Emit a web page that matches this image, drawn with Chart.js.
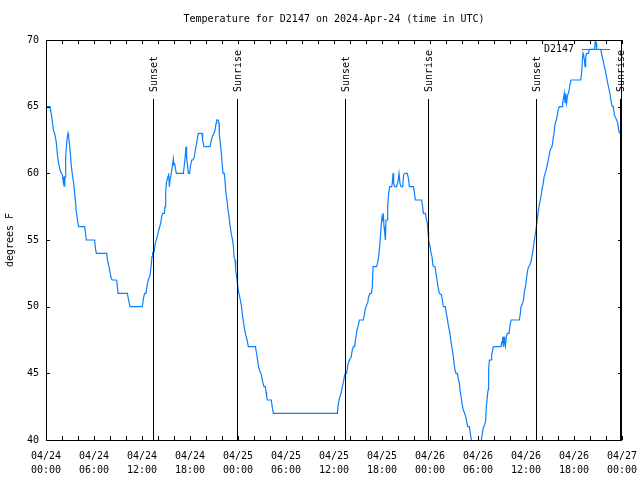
<!DOCTYPE html>
<html>
<head>
<meta charset="utf-8">
<script src="https://cdn.jsdelivr.net/npm/chart.js@4.4.1/dist/chart.umd.min.js"></script>
<style>
html,body{margin:0;padding:0;background:#fff}
canvas{display:block}
</style>
</head>
<body>
<canvas id="tempChart" width="640" height="480"></canvas>
<script>
// hours since 2024-04-24 00:00 UTC
const hours = [
  0,0.5,0.67,0.79,0.92,1.08,1.21,1.33,1.42,1.58,
  1.75,1.92,2.04,2.17,2.25,2.33,2.38,2.46,2.58,2.67,
  2.75,2.83,2.92,3.04,3.17,3.33,3.46,3.58,3.71,3.79,
  3.96,4.08,4.83,4.92,5.04,6.08,6.17,6.29,7.58,7.71,
  7.88,8.0,8.17,8.29,8.83,8.92,9.0,10.17,10.29,10.5,
  12.04,12.17,12.33,
  12.5,12.67,12.83,13.0,13.13,13.25,13.33,13.5,13.67,13.83,
  14.0,14.17,14.33,14.46,14.58,14.79,14.88,14.96,15.04,15.17,
  15.25,15.33,15.42,15.5,15.63,15.79,15.92,16.0,16.08,16.17,
  16.29,17.17,17.25,17.38,17.5,17.58,17.71,17.79,17.96,18.04,
  18.21,18.38,18.54,18.67,18.83,18.96,19.04,19.5,19.58,19.75,
  20.5,20.67,20.79,21.0,21.13,21.25,21.33,21.54,21.63,21.67,
  21.79,21.92,22.04,22.13,22.29,22.38,22.5,22.67,22.75,22.88,
  23.0,23.17,23.29,23.42,23.5,23.63,23.71,23.83,23.96,24.08,
  24.21,24.33,24.46,24.58,24.71,24.83,
  25.0,25.13,25.29,26.17,26.29,26.42,26.54,26.67,26.88,27.0,
  27.13,27.25,27.42,27.5,27.58,27.67,28.17,28.25,28.42,36.42,
  36.5,36.63,36.75,36.92,37.04,37.17,37.29,37.42,37.58,37.75,
  37.92,38.13,38.29,38.42,38.58,38.71,38.88,39.04,39.17,39.67,
  39.75,39.88,40.0,40.21,40.33,40.5,40.67,40.79,40.88,41.33,
  41.46,41.58,41.71,41.83,41.92,42.0,42.08,42.17,42.25,42.33,
  42.42,42.5,42.63,42.71,42.83,42.96,43.21,43.29,43.38,43.46,
  43.58,43.83,44.0,44.13,44.25,44.38,44.58,44.71,44.88,45.17,
  45.33,45.42,45.92,46.04,46.17,46.96,47.08,47.17,47.42,47.54,
  47.67,47.75,47.83,
  48.0,48.13,48.25,48.38,48.63,48.75,48.88,49.0,49.13,49.25,
  49.42,49.54,49.67,49.92,50.04,50.17,50.29,50.42,50.54,50.67,
  50.79,50.92,51.0,51.13,51.25,51.42,51.54,51.67,51.79,51.92,
  52.04,52.17,52.33,52.46,52.58,52.71,52.92,53.04,53.17,53.5,
  54.0,54.42,54.54,54.67,54.83,54.96,55.04,55.17,55.25,55.33,
  55.42,55.63,55.71,55.83,55.92,56.88,57.0,57.08,57.17,57.25,
  57.33,57.42,57.54,57.67,57.88,58.0,58.13,59.17,59.29,59.38,
  59.58,59.71,59.83,59.96,60.08,60.21,60.33,60.46,
  60.63,60.75,60.88,61.0,61.13,61.25,61.38,61.5,61.63,61.75,
  61.88,62.0,62.17,62.25,62.38,62.5,62.63,62.75,62.88,63.0,
  63.13,63.25,63.38,63.5,63.63,63.79,63.92,64.04,64.17,64.5,
  64.58,64.71,64.79,64.88,64.96,65.08,65.17,65.29,65.42,65.5,
  65.63,66.83,66.96,67.04,67.13,67.21,67.29,67.38,67.46,67.58,
  67.79,67.92,68.46,68.58,68.67,68.75,68.83,69.25,69.38,69.5,
  69.67,69.79,69.92,70.04,70.17,70.29,70.42,70.54,70.67,70.79,
  70.92,71.04,71.17,71.33,71.46,71.58,71.67
];

// degrees F, same order as hours
const temps = [
  65,65,64.4,63.9,63.25,63,62.6,62.1,61.4,60.75,
  60.25,60,59.9,59.3,59.75,59,59.75,61.25,62.25,62.7,
  63,62.75,62.25,61.5,60.5,59.75,59.25,58.5,57.75,57.1,
  56.4,56,56,55.6,55,55,54.4,54,54,53.4,
  53,52.6,52.1,52,52,51.5,51,51,50.6,50,
  50,50.6,51,
  51,51.7,52.1,52.3,53,53.75,54.05,54.1,54.75,55.1,
  55.5,55.9,56.25,56.75,57,57,57.5,58.5,59.25,59.6,
  59.75,60,59,59.5,59.9,60.5,61.1,60.6,60.75,60.4,
  60,60,60.4,61.1,62,61.1,60.5,60,60,60.5,
  61,61,61.25,61.75,62.25,62.75,63,63,62.5,62,
  62,62.5,62.75,63,63.25,63.75,64,64,63.75,62.9,
  62.25,61.5,60.6,60,60,59.4,58.5,57.75,57.25,56.75,
  56.1,55.4,55.1,54.55,53.75,53.5,52.75,52.25,51.6,51.1,
  50.75,50.4,49.9,49.25,48.75,48.25,
  47.8,47.5,47,47,46.6,46.1,45.6,45.25,45,44.6,
  44.25,44,44,43.6,43.3,43,43,42.6,42,42,
  42.5,43,43.25,43.6,44,44.3,44.75,45,45,45.7,
  46,46.2,46.75,47,47,47.6,48.25,48.6,49,49,
  49.25,49.7,50,50.3,50.75,51,51,51.5,53,53,
  53.3,53.75,54.5,55.5,56.25,56.7,56.4,57,56,55.6,
  55,56.5,56.5,57.5,58.5,59,59,59.25,60,59.25,
  59,59,59.4,60,59.25,59,59,59.9,60,60,
  59.5,59,59,58.6,58,58,57.5,57,57,56.6,
  56.25,55.6,55,
  54.5,54,53.75,53.05,53,52.5,52,51.5,51.1,50.95,
  50.9,50.5,50,50,49.5,49.1,48.6,48.25,47.75,47.2,
  46.75,46.25,45.75,45.25,45,45,44.6,44.25,43.6,43.1,
  42.6,42.25,42,41.75,41.4,41,41,40.5,40,39.4,
  39.4,40,40.5,40.95,41.1,41.5,42.5,43.25,43.75,45.25,
  46,46,46.4,46.75,47,47,47.4,47.75,47,47.75,
  47.25,47,47.75,48,48,48.6,49,49,49.5,50,
  50.25,50.6,51.25,51.6,52.2,52.75,53,53.1,
  53.4,53.8,54.3,54.8,55.3,55.8,56.4,57,57.5,57.9,
  58.3,58.8,59.3,59.7,60,60.2,60.55,60.9,61.3,61.7,
  61.9,62,62.55,63,63.7,64,64.4,64.8,65,65,
  65.3,65.7,66,65.3,66,65.3,65.8,66,66.3,66.7,
  67,67,67.55,68.4,69,68.8,68.55,68,68.7,69,
  69,69.3,69.3,69.4,70,69.8,69.3,69.3,69.2,68.8,
  68.4,68,67.7,67.3,66.9,66.55,66.2,65.8,65.3,65,
  65,64.4,64.2,64,63.8,63.3,63
];

const sunHours = [13.4, 23.9, 37.4, 47.8, 61.3, 71.8];
const sunLabels = ['Sunset','Sunrise','Sunset','Sunrise','Sunset','Sunrise'];

const tickHours = [0,6,12,18,24,30,36,42,48,54,60,66,72];
const tickDates = ['04/24','04/24','04/24','04/24','04/25','04/25','04/25','04/25','04/26','04/26','04/26','04/26','04/27'];
const tickTimes = ['00:00','06:00','12:00','18:00','00:00','06:00','12:00','18:00','00:00','06:00','12:00','18:00','00:00'];
const yTickValues = [40,45,50,55,60,65,70];

const titleText = 'Temperature for D2147 on 2024-Apr-24 (time in UTC)';
const seriesName = 'D2147';
const yTitle = 'degrees F';

const FONT = '"DejaVu Sans Mono","Liberation Mono",monospace';
const LINE_COLOR = '#0a80ff';
const TIC = 4;

if(hours.length!==temps.length) console.error('length mismatch', hours.length, temps.length);

// gnuplot-ish frame, inward tics, sun markers, key, titles
const overlay = {
  id:'overlay',
  afterDatasetsDraw(chart){
    const {ctx, chartArea:a, scales:{x, y}} = chart;
    ctx.save();
    ctx.strokeStyle = '#000';
    ctx.lineWidth = 1;
    ctx.fillStyle = '#000';
    ctx.font = '10px ' + FONT;

    // sunrise / sunset lines
    sunHours.forEach((h,i)=>{
      const px = Math.round(x.getPixelForValue(h)) + 0.5;
      ctx.beginPath(); ctx.moveTo(px, 99); ctx.lineTo(px, a.bottom); ctx.stroke();
      ctx.save();
      ctx.translate(px + 1, 92);
      ctx.rotate(-Math.PI/2);
      ctx.textAlign = 'left'; ctx.textBaseline = 'middle';
      ctx.fillText(sunLabels[i], 0, 0);
      ctx.restore();
    });

    // border
    ctx.strokeRect(a.left + 0.5, a.top + 0.5, a.right - a.left - 1, a.bottom - a.top);

    // x tics every 2h, bottom and top
    ctx.beginPath();
    for(let h=0; h<=72; h+=2){
      const px = Math.round(x.getPixelForValue(h)) + 0.5;
      ctx.moveTo(px, a.bottom); ctx.lineTo(px, a.bottom - TIC);
      ctx.moveTo(px, a.top); ctx.lineTo(px, a.top + TIC);
    }
    // y tics left and right
    yTickValues.forEach(v=>{
      const py = Math.round(y.getPixelForValue(v)) + 0.5;
      ctx.moveTo(a.left, py); ctx.lineTo(a.left + TIC, py);
      ctx.moveTo(a.right, py); ctx.lineTo(a.right - TIC, py);
    });
    ctx.stroke();

    // key
    ctx.textAlign = 'right'; ctx.textBaseline = 'middle';
    ctx.fillText(seriesName, 574, 49);
    ctx.strokeStyle = LINE_COLOR;
    ctx.beginPath(); ctx.moveTo(582, 49.5); ctx.lineTo(610, 49.5); ctx.stroke();

    // title
    ctx.textAlign = 'center';
    ctx.fillText(titleText, (a.left + a.right)/2, 19);

    // y axis title
    ctx.save();
    ctx.translate(10, (a.top + a.bottom)/2);
    ctx.rotate(-Math.PI/2);
    ctx.textAlign = 'center'; ctx.textBaseline = 'middle';
    ctx.fillText(yTitle, 0, 0);
    ctx.restore();

    ctx.restore();
  }
};

new Chart(document.getElementById('tempChart'), {
  type:'line',
  data:{
    datasets:[{
      label: seriesName,
      data: hours.map((h,i)=>({x:h, y:temps[i]})),
      borderColor: LINE_COLOR,
      borderWidth: 1.2,
      pointRadius: 0,
      tension: 0,
      fill: false
    }]
  },
  options:{
    responsive:false,
    animation:false,
    events:[],
    layout:{padding:{top:40, right:18, left:0, bottom:0}},
    plugins:{legend:{display:false}, title:{display:false}, tooltip:{enabled:false}},
    scales:{
      x:{
        type:'linear', min:0, max:72,
        grid:{display:false, drawTicks:false},
        border:{display:false},
        afterBuildTicks:s=>{ s.ticks = tickHours.map(v=>({value:v})); },
        afterFit:s=>{ s.height = 40; s.paddingLeft = 0; s.paddingRight = 0; },
        ticks:{
          autoSkip:false, maxRotation:0, minRotation:0, padding:9,
          color:'#000', font:{family:FONT, size:10, lineHeight:1.45},
          callback:(v)=>{ const i = tickHours.indexOf(v); return i<0 ? '' : [tickDates[i], tickTimes[i]]; }
        }
      },
      y:{
        min:40, max:70,
        grid:{display:false, drawTicks:false},
        border:{display:false},
        afterBuildTicks:s=>{ s.ticks = yTickValues.map(v=>({value:v})); },
        afterFit:s=>{ s.width = 46; s.paddingTop = 0; s.paddingBottom = 0; },
        ticks:{ padding:7, color:'#000', font:{family:FONT, size:10} }
      }
    }
  },
  plugins:[overlay]
});
</script>
</body>
</html>
